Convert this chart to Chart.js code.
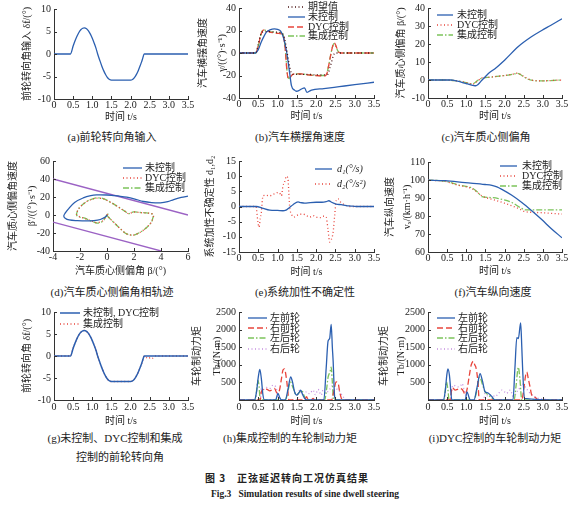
<!DOCTYPE html>
<html><head><meta charset="utf-8">
<script src="https://cdn.jsdelivr.net/npm/chart.js@4.4.0/dist/chart.umd.min.js"></script>
<style>
html,body{margin:0;padding:0;background:#fff;}
body{width:582px;height:506px;position:relative;overflow:hidden;font-family:'Liberation Serif','Noto Sans CJK SC',serif;color:#222;}
canvas{position:absolute;}
.cap{position:absolute;transform:translate(-50%,-50%);white-space:nowrap;font-size:11px;}
.t1{position:absolute;transform:translate(-50%,-50%);white-space:nowrap;font-size:10px;font-weight:bold;font-family:'Noto Sans CJK SC',sans-serif;letter-spacing:1px;}
.t2{position:absolute;transform:translate(-50%,-50%);white-space:nowrap;font-size:9.5px;font-weight:bold;font-family:'Liberation Serif',serif;}
</style></head><body>
<div class="cap" style="left:112px;top:136px">(a)前轮转向角输入</div>
<div class="cap" style="left:300px;top:136px">(b)汽车横摆角速度</div>
<div class="cap" style="left:486px;top:136px">(c)汽车质心侧偏角</div>
<div class="cap" style="left:112px;top:291px">(d)汽车质心侧偏角相轨迹</div>
<div class="cap" style="left:305px;top:291px">(e)系统加性不确定性</div>
<div class="cap" style="left:493px;top:291px">(f)汽车纵向速度</div>
<div class="cap" style="left:115px;top:437px">(g)未控制、DYC控制和集成</div>
<div class="cap" style="left:120px;top:456px">控制的前轮转向角</div>
<div class="cap" style="left:290px;top:437px">(h)集成控制的车轮制动力矩</div>
<div class="cap" style="left:495px;top:437px">(i)DYC控制的车轮制动力矩</div>
<div class="t1" style="left:287px;top:477px">图 3　正弦延迟转向工况仿真结果</div>
<div class="t2" style="left:305px;top:494px">Fig.3&nbsp;&nbsp;&nbsp;Simulation results of sine dwell steering</div>
<script>
// ---------- data ----------
// (a) front wheel steering input
const tSteer = [0,0.43,0.5,0.55,0.6,0.65,0.7,0.75,0.79,0.85,0.9,0.95,1.0,1.05,1.1,1.14,1.2,1.25,1.3,1.35,1.4,1.45,1.5,2.0,2.05,2.1,2.15,2.2,2.25,2.3,2.36,3.5];
const steerInput = [0,0,1.76,2.93,3.95,4.78,5.38,5.72,5.8,5.6,5.13,4.42,3.5,2.4,1.2,0,-1.51,-2.7,-3.75,-4.62,-5.28,-5.67,-5.8,-5.8,-5.66,-5.25,-4.58,-3.7,-2.63,-1.44,0,0];
// (b) yaw rate
const tYawDes = [0,0.43,0.5,0.55,0.6,0.7,0.8,0.9,1.0,1.1,1.15,1.2,1.25,1.3,1.35,1.4,1.6,1.8,2.0,2.2,2.3,2.35,2.4,2.45,2.5,3.5];
const yawDes = [0,0,8,15,18.5,19,19,18.8,18.5,18,16,10,0,-10,-17,-19,-19,-19,-19.5,-19.5,-19,-14,-8,-2,0,0];
const tYawNo = [0,0.42,0.5,0.58,0.65,0.71,0.8,0.92,1.0,1.08,1.15,1.23,1.31,1.36,1.44,1.49,1.55,1.62,1.7,1.76,1.82,1.88,2.2,2.6,3.0,3.5];
const yawNo = [0,0,3,10,15,18.5,20.5,21.4,21,19.5,14,2,-17,-29,-33,-34,-33.5,-32,-31,-35,-34,-33,-31.6,-29.9,-28.2,-26];
const tYawCtl = [0,0.43,0.5,0.55,0.6,0.65,0.7,0.8,0.9,1.0,1.1,1.15,1.2,1.24,1.27,1.3,1.36,1.45,1.6,1.8,2.0,2.2,2.27,2.32,2.37,2.42,2.47,2.52,2.57,2.65,3.5];
const yawDyc = [0,0,6,14,19,20.5,20,18.5,18,17.5,17,15,3,-15,-22,-23,-20,-18.5,-18.5,-19.5,-20,-20.5,-19,-12,-3,5,9,6,1,0,0];
const yawInt = [0,0,6,14,19.5,20.5,20,19,18.5,18,17.5,15.5,4,-14,-21.5,-22.5,-20,-18.5,-18.5,-19.5,-20,-20,-18.5,-12,-3,5,8.5,5,1.5,0,0];
// (c) sideslip angle
const tBetaNo = [0,0.6,0.7,0.8,0.9,1.0,1.1,1.2,1.25,1.3,1.4,1.49,1.6,1.75,2.0,2.36,2.7,2.97,3.2,3.5];
const betaNo = [0,0,-0.3,-0.8,-1.4,-2.0,-2.6,-3.1,-3.2,-2.6,-0.3,1.7,4.0,6.3,11,18.6,24,27.5,30.3,34];
const tBetaCtl = [0,0.5,0.7,0.9,1.0,1.1,1.15,1.2,1.3,1.4,1.5,1.6,1.8,2.0,2.2,2.33,2.4,2.5,2.6,2.7,2.85,3.0,3.2,3.5];
const betaDyc = [0,0,-0.4,-1.0,-1.5,-2.0,-2.3,-2.1,-0.5,1.2,1.5,1.6,2.0,2.5,3.2,3.8,3.3,2.0,0.8,0,-0.4,-0.5,-0.3,0];
const betaInt = [0,0,-0.4,-1.0,-1.5,-2.0,-2.2,-1.8,-0.2,1.0,1.3,1.5,2.0,2.5,3.1,3.7,3.2,1.8,0.6,-0.1,-0.5,-0.5,-0.3,0];
// (d) phase trajectory (beta, beta')
const phBetaNo = [0,-0.1,-0.5,-1.0,-1.5,-2.2,-2.8,-3.1,-3.2,-3.1,-2.9,-2.4,-1.76,-1.2,-0.77,0,0.47,1.0,1.46,2.0,2.7,3.3,3.95,4.5,4.94,5.5,6];
const phRateNo = [0,-2,-5,-6.3,-6.6,-6.3,-5.5,-3.5,-1,2,6,14,19,21.5,22.3,22.2,21.6,20.8,19.8,18,15,13.8,13.5,14.8,17.2,19.5,20.9];
const phBetaCtl = [0,-0.1,-0.27,-0.5,-0.77,-1.0,-1.27,-1.64,-2.1,-2.25,-2.2,-2.0,-1.5,-1.0,-0.77,-0.27,0.22,0.72,1.34,1.6,1.96,2.46,2.95,3.3,3.45,3.4,3.3,3.0,2.7,2.3,1.96,1.46,0.97,0.47,0.1,0,0.1,0];
const phRateDyc = [0,-2,-5.9,-7.8,-8.4,-7.5,-5.9,-4,-1.5,0,4,8.8,15,18,18.7,18,14.3,10,4,1.5,3.3,2.6,2.2,1.5,-0.4,-3,-7.7,-13,-16.8,-20.5,-22.3,-21,-15,-7.7,-2.2,0,1.5,0];
const phRateInt = [0,-2,-6.3,-8.3,-8.9,-7.6,-6.2,-3.5,-2,0,4,8.8,15,18.3,19,18.2,14.5,10,4,1.5,3.5,2.8,2.3,1.5,-0.4,-3,-7.7,-13,-16.8,-20.5,-22.3,-21,-15,-7.7,-2.2,0,1.5,0];
const boundUpX = [-4,6], boundUpY = [40,0];
const boundLowX = [-4,4], boundLowY = [-8,-40];
// (e) additive uncertainties
const tD1 = [0,0.45,0.6,0.8,1.0,1.14,1.2,1.31,1.4,1.53,1.6,1.7,1.85,2.0,2.15,2.26,2.33,2.4,2.52,2.65,2.78,2.9,3.04,3.5];
const d1 = [0,0,-0.5,-1.2,-1.3,-1.4,-1.3,-0.3,0.6,1.5,1.3,1.1,1.3,1.4,1.4,1.6,1.9,1.4,0.8,0.6,0.3,0.15,0,0];
const tD2 = [0,0.44,0.49,0.52,0.55,0.58,0.62,0.7,0.8,0.88,0.95,1.0,1.05,1.1,1.14,1.18,1.23,1.27,1.29,1.31,1.36,1.42,1.49,1.57,1.66,1.75,1.83,1.92,2.0,2.1,2.18,2.26,2.31,2.35,2.39,2.44,2.48,2.52,2.57,2.63,2.7,2.8,2.87,3.5];
const d2 = [0,0,-5.2,-6.8,-4,-1.9,3.5,3.7,3.5,4,4.3,4.6,4.5,3.5,6.8,8,10,9,5,0.3,-2.5,-3.5,-3,-2.6,-2.5,-3,-3.5,-3,-3.5,-3.7,-3.2,-3.5,-7.9,-11.7,-11,-8.5,-3,1.9,2.5,1.5,0.8,0.3,0,0];
// (f) longitudinal speed
const tVx = [0,0.45,0.97,1.49,1.67,1.8,1.93,2.19,2.45,2.71,2.97,3.23,3.5];
const vxNo = [99.9,99.6,98.5,97.5,97,96.2,94.8,91.5,87.5,82.9,78,72.8,67.9];
const tVxDyc = [0,0.45,0.8,1.15,1.3,1.41,1.67,2.0,2.36,2.54,2.8,3.5];
const vxDyc = [99.9,99.2,97,95.2,93,91.1,89.3,87.1,84.2,82.4,82,81.1];
const tVxInt = [0,0.45,0.8,1.15,1.3,1.41,1.67,1.84,2.19,2.45,2.54,3.5];
const vxInt = [99.9,99.3,97.2,95.5,93.2,90.8,90.2,89.7,87.5,84.2,83.4,83.4];
// (g) front wheel angle under integrated control
const tSteerInt = [0,0.43,0.5,0.55,0.6,0.65,0.7,0.75,0.79,0.85,0.9,0.95,1.0,1.05,1.1,1.14,1.2,1.25,1.3,1.35,1.4,1.45,1.5,2.0,2.05,2.1,2.15,2.2,2.25,2.3,2.36,2.42,2.47,2.52,2.58,2.65,3.5];
const steerInt = [0,0,1.76,2.93,3.95,4.78,5.38,5.72,5.8,5.6,5.13,4.42,3.5,2.4,1.3,0.1,-1.51,-2.7,-3.75,-4.62,-5.28,-5.67,-5.8,-5.8,-5.66,-5.25,-4.58,-3.7,-2.63,-1.44,0,-0.4,-0.6,-0.3,-0.5,0,0];
// (h) braking torques, integrated control
const tHlf = [0,0.4,0.45,0.5,0.54,0.58,0.62,0.66,0.95,1.01,1.06,1.1,1.2,1.27,1.34,1.39,1.44,1.5,1.55,1.6,1.65,1.7,1.76,2.2,2.26,2.31,2.35,2.39,2.42,2.44,2.48,2.52,3.5];
const hLF = [0,0,200,650,868,600,150,0,0,187,60,0,0,300,653,500,233,140,200,280,150,47,0,0,900,1680,1745,2146,1500,1120,93,0,0];
const tHrf = [0,0.55,0.58,0.63,0.67,0.73,0.8,0.86,0.92,0.99,1.05,1.1,1.14,1.18,1.21,1.24,1.27,1.29,1.7,1.75,1.8,1.88,1.92,1.96,2.4,2.45,2.52,2.57,2.61,2.68,3.5];
const hRF = [0,0,233,300,327,300,261,290,327,187,280,600,850,886,750,513,200,0,0,93,0,0,47,0,0,200,513,480,233,0,0];
const tHlr = [0,0.42,0.46,0.49,0.52,0.55,1.2,1.27,1.33,1.4,1.49,1.55,1.62,1.7,1.75,2.22,2.27,2.31,2.36,2.39,2.42,2.45,3.5];
const hLR = [0,0,300,560,400,0,0,250,513,350,140,200,280,93,0,0,300,653,800,933,500,0,0];
const tHrr = [0,0.55,0.58,0.64,0.71,0.8,0.88,0.95,0.99,1.03,1.5,1.57,1.65,1.75,1.83,1.92,1.98,2.05,2.13,2.18,2.25,2.35,2.44,2.52,2.6,2.7,2.78,3.5];
const hRR = [0,0,327,300,355,330,420,380,233,0,0,280,150,233,180,280,150,300,140,280,200,300,420,327,250,93,0,0];
// (i) braking torques, DYC
const tIlf = [0,0.4,0.45,0.49,0.52,0.56,0.6,0.62,0.97,1.02,1.07,1.1,1.2,1.28,1.36,1.42,1.49,1.56,1.62,1.67,1.75,2.22,2.27,2.32,2.36,2.42,2.45,2.47,2.52,3.5];
const iLF = [0,0,250,700,886,700,200,0,0,233,80,0,0,350,746,550,233,205,150,93,0,0,900,1773,1745,2193,1500,933,47,0];
const tIrf = [0,0.58,0.63,0.67,0.71,0.77,0.84,0.9,0.93,0.97,1.02,1.08,1.13,1.19,1.22,1.25,1.3,1.34,2.45,2.5,2.55,2.58,2.62,2.66,2.71,2.8,2.88,3.5];
const iRF = [0,0,355,320,280,300,327,290,233,150,300,700,1000,1100,1000,933,560,0,0,300,700,793,606,400,140,75,0,0];
const tIlr = [0,0.42,0.45,0.48,0.52,0.55,1.2,1.28,1.35,1.42,1.49,1.58,1.67,1.72,2.25,2.3,2.36,2.4,2.45,3.5];
const iLR = [0,0,250,513,300,0,0,300,653,450,233,140,47,0,0,400,933,606,0,0];
const tIrr = [0,0.58,0.63,0.67,0.73,0.8,0.86,0.89,0.93,0.97,1.02,1.45,1.49,1.55,1.67,1.75,1.85,1.93,2.0,2.06,2.1,2.15,2.2,2.23,2.3,2.4,2.45,2.54,2.6,2.67,2.75,2.88,3.5];
const iRR = [0,0,350,420,390,373,420,467,350,187,0,0,187,120,140,100,200,280,230,187,250,280,150,47,200,350,467,373,280,187,120,47,0];

// ---------- styles ----------
const BLUE='#2b5fb0', RED='#e8453c', GREEN='#7cc35b', PURPLE='#9b62c4', LPURPLE='#c58fe0', DARK='#4a1515';
const DOT=[1,2.5], DASH=[6,3], DASHDOT=[6,2,1.5,2];
const FAM="'Liberation Serif','Noto Sans CJK SC',serif";
Chart.defaults.font.family = FAM;
Chart.defaults.color = '#222';

function pts(t, v) { return t.map((x, i) => ({x: x, y: v[i]})); }
function ser(label, t, v, color, dash, opt) {
  return Object.assign({label, data: pts(t, v), borderColor: color, borderDash: dash || [], borderWidth: 1.3,
    pointRadius: 0, fill: false, cubicInterpolationMode: 'monotone', tension: 0.4}, opt || {});
}

// in-plot legend drawn on the chart canvas
const inLegend = {
  id: 'inLegend',
  afterDraw(chart, args, o) {
    if (!o || !o.items) return;
    const {ctx, chartArea} = chart;
    ctx.save();
    o.items.forEach((di, k) => {
      const ds = chart.data.datasets[di];
      const y = chartArea.top + o.dy[k];
      const x0 = chartArea.left + o.dx;
      ctx.strokeStyle = ds.borderColor; ctx.lineWidth = ds.borderWidth;
      ctx.setLineDash(ds.borderDash || []);
      ctx.beginPath(); ctx.moveTo(x0, y); ctx.lineTo(x0 + o.len, y); ctx.stroke();
      ctx.setLineDash([]);
      ctx.fillStyle = '#222'; ctx.font = o.font || ("10px " + FAM);
      ctx.textBaseline = 'middle'; ctx.textAlign = 'left';
      ctx.fillText(ds.label, x0 + o.len + o.gap, y);
    });
    ctx.restore();
  }
};
// inward tick marks
const inTicks = {
  id: 'inTicks',
  afterDraw(chart) {
    const ctx = chart.ctx, xs = chart.scales.x, ys = chart.scales.y;
    ctx.save(); ctx.strokeStyle = '#333'; ctx.lineWidth = 1;
    xs.ticks.forEach((t, i) => { const p = Math.round(xs.getPixelForTick(i)) + 0.5; ctx.beginPath(); ctx.moveTo(p, xs.top); ctx.lineTo(p, xs.top - 3); ctx.stroke(); });
    ys.ticks.forEach((t, i) => { const p = Math.round(ys.getPixelForTick(i)) + 0.5; ctx.beginPath(); ctx.moveTo(ys.right, p); ctx.lineTo(ys.right + 3, p); ctx.stroke(); });
    ctx.restore();
  }
};
Chart.register(inLegend, inTicks);

const fmtT = v => Math.abs(v) < 1e-9 ? '0' : v.toFixed(1);
const fmtI = v => String(Math.round(v));
const fmtNo0 = v => Math.abs(v) < 1e-9 ? '' : String(Math.round(v));
const TIME = '时间 t/s';

const panels = [
  {L:54,T:8,R:188,B:99, tx:27, tlh:12, hx:25, xpad:0, ytitle:'前轮转向角输入 δf/(°)', xtitle:TIME,
   x:[0,3.5,0.5,fmtT], y:[-10,10,5,fmtI],
   datasets:[ser('前轮转向角', tSteer, steerInput, BLUE, [])], legend:null},
  {L:239,T:7,R:374,B:98, tx:203, tlh:19, hx:25, xpad:0, ytitle:['汽车横摆角速度','γ/((°)·s⁻¹)'], xtitle:TIME,
   x:[0,3.5,0.5,fmtT], y:[-40,40,20,fmtI],
   datasets:[ser('期望值', tYawDes, yawDes, DARK, DOT), ser('未控制', tYawNo, yawNo, BLUE, []),
             ser('DYC控制', tYawCtl, yawDyc, RED, DASH), ser('集成控制', tYawCtl, yawInt, GREEN, DASHDOT)],
   legend:{dx:49,len:17,gap:3,dy:[-1,9,19,28],items:[0,1,2,3]}},
  {L:428,T:7,R:562,B:98, tx:401, tlh:12, hx:25, xpad:0, ytitle:'汽车质心侧偏角 β/(°)', xtitle:TIME,
   x:[0,3.5,0.5,fmtT], y:[-10,40,10,fmtI],
   datasets:[ser('未控制', tBetaNo, betaNo, BLUE, []), ser('DYC控制', tBetaCtl, betaDyc, RED, DOT),
             ser('集成控制', tBetaCtl, betaInt, GREEN, DASHDOT)],
   legend:{dx:9,len:16,gap:4,dy:[7,17,27],items:[0,1,2]}},
  {L:53,T:160,R:188,B:251, tx:13, tlh:19, hx:27, xpad:0, ytitle:['汽车质心侧偏角速度','β′/((°)·s⁻¹)'], xtitle:'汽车质心侧偏角 β/(°)',
   x:[-4,6,2,fmtI], y:[-40,60,20,fmtI],
   datasets:[ser('未控制', phBetaNo, phRateNo, BLUE, [], {cubicInterpolationMode:'default', tension:0.35}),
             ser('DYC控制', phBetaCtl, phRateDyc, RED, DOT, {cubicInterpolationMode:'default', tension:0.35}),
             ser('集成控制', phBetaCtl, phRateInt, GREEN, DASHDOT, {cubicInterpolationMode:'default', tension:0.35}),
             ser('稳定边界上', boundUpX, boundUpY, PURPLE, [], {tension:0}),
             ser('稳定边界下', boundLowX, boundLowY, PURPLE, [], {tension:0})],
   legend:{dx:70,len:19,gap:3,dy:[7,17,27],items:[0,1,2]}},
  {L:239,T:160,R:374,B:252, tx:210, tlh:12, hx:27, xpad:0, ytitle:'系统加性不确定性 d₁,d₂', xtitle:TIME,
   x:[0,3.5,0.5,fmtT], y:[-15,15,5,fmtI],
   datasets:[ser('d₁(°/s)', tD1, d1, BLUE, []), ser('d₂(°/s²)', tD2, d2, RED, DOT, {tension:0.2})],
   legend:{dx:76,len:17,gap:5,dy:[8,23],items:[0,1],font:"italic 10px "+FAM}},
  {L:428,T:161,R:562,B:252, tx:390, tlh:17, hx:26, xpad:0, ytitle:['汽车纵向速度','vₓ/(km·h⁻¹)'], xtitle:TIME,
   x:[0,3.5,0.5,fmtT], y:[60,110,10,fmtI],
   datasets:[ser('未控制', tVx, vxNo, BLUE, []), ser('DYC控制', tVxDyc, vxDyc, RED, DOT),
             ser('集成控制', tVxInt, vxInt, GREEN, DASHDOT)],
   legend:{dx:72,len:17,gap:5,dy:[4,14,24],items:[0,1,2]}},
  {L:54,T:311,R:188,B:400, tx:27, tlh:12, hx:28, xpad:1, ytitle:'前轮转向角 δf/(°)', xtitle:TIME,
   x:[0,3.5,0.5,fmtT], y:[-10,10,5,fmtI],
   datasets:[ser('未控制, DYC控制', tSteer, steerInput, BLUE, [], {borderWidth:1.5}), ser('集成控制', tSteerInt, steerInt, RED, DOT)],
   legend:{dx:6,len:20,gap:3,dy:[1,12],items:[0,1]}},
  {L:239,T:311,R:374,B:400, tx:197, tlh:20, hx:28, xpad:1, ytitle:['车轮制动力矩','Tb/(N·m)'], xtitle:TIME,
   x:[0,3.5,0.5,fmtT], y:[0,2500,500,fmtNo0],
   datasets:[ser('左前轮', tHlf, hLF, BLUE, []), ser('右前轮', tHrf, hRF, RED, DASH),
             ser('左后轮', tHlr, hLR, GREEN, DASHDOT), ser('右后轮', tHrr, hRR, LPURPLE, DOT)],
   legend:{dx:9,len:19,gap:3,dy:[6,16,26,37],items:[0,1,2,3]}},
  {L:428,T:311,R:562,B:400, tx:384, tlh:17, hx:28, xpad:1, ytitle:['车轮制动力矩','Tb/(N·m)'], xtitle:TIME,
   x:[0,3.5,0.5,fmtT], y:[0,2500,500,fmtNo0],
   datasets:[ser('左前轮', tIlf, iLF, BLUE, []), ser('右前轮', tIrf, iRF, RED, DASH),
             ser('左后轮', tIlr, iLR, GREEN, DASHDOT), ser('右后轮', tIrr, iRR, LPURPLE, DOT)],
   legend:{dx:9,len:18,gap:3,dy:[6,16,26,37],items:[0,1,2,3]}}
];

function makePanel(p) {
  const left = Math.round(p.tx - p.tlh / 2 - 2);
  const wy = p.L - left;
  const RP = 12, TP = 8;
  const W = wy + (p.R - p.L) + RP;
  const H = TP + (p.B - p.T) + p.hx;
  const c = document.createElement('canvas');
  c.width = W; c.height = H;
  c.style.left = left + 'px'; c.style.top = (p.T - TP) + 'px';
  c.style.width = W + 'px'; c.style.height = H + 'px';
  document.body.appendChild(c);
  const tickFont = {size: 10, family: FAM};
  new Chart(c, {
    type: 'line',
    data: {datasets: p.datasets},
    options: {
      responsive: false, animation: false, events: [],
      layout: {padding: {left: 0, top: TP, right: RP, bottom: 0}},
      plugins: {legend: {display: false}, tooltip: {enabled: false}, inLegend: p.legend || {}},
      scales: {
        x: {type: 'linear', min: p.x[0], max: p.x[1],
            afterFit: s => { s.height = p.hx; },
            grid: {display: false, drawTicks: false},
            border: {display: true, color: '#333', width: 1},
            ticks: {stepSize: p.x[2], autoSkip: false, maxRotation: 0, padding: p.xpad, font: tickFont, color: '#222', callback: p.x[3]},
            title: {display: true, text: p.xtitle, color: '#222', font: {size: 10, family: FAM, lineHeight: 1.2}, padding: {top: 0, bottom: 1}}},
        y: {type: 'linear', min: p.y[0], max: p.y[1],
            afterFit: s => { s.width = wy; },
            grid: {display: false, drawTicks: false},
            border: {display: true, color: '#333', width: 1},
            ticks: {stepSize: p.y[2], autoSkip: false, padding: 3, font: tickFont, color: '#222', callback: p.y[3]},
            title: {display: true, text: p.ytitle, color: '#222', font: {size: 10, family: FAM, lineHeight: p.tlh / 10}, padding: {top: 2, bottom: 0}}}
      }
    }
  });
}
panels.forEach(makePanel);
</script>
</body></html>
